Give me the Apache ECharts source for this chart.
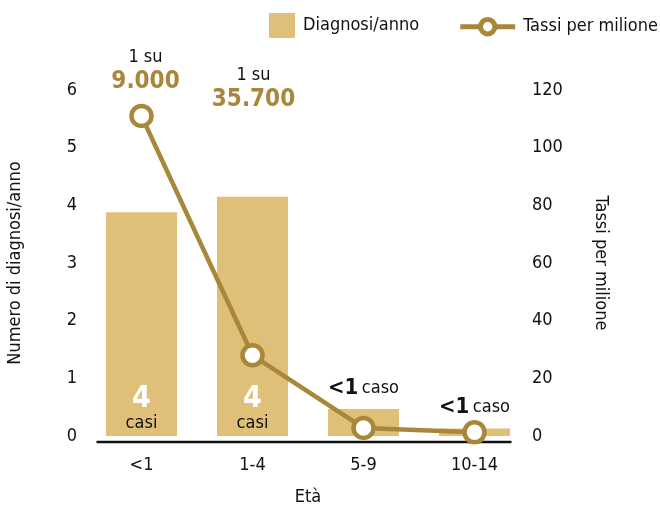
<!DOCTYPE html>
<html>
<head>
<meta charset="utf-8">
<script src="https://cdn.jsdelivr.net/npm/echarts@6/dist/echarts.min.js"></script>
<style>
  html, body { margin: 0; padding: 0; background: #fff; }
  #chart { width: 660px; height: 506px; }
</style>
</head>
<body>
<div id="chart"></div>
<script>
// Age groups and values
const categories = ['<1', '1-4', '5-9', '10-14'];
const diagnosesPerYear = [3.88, 4.15, 0.47, 0.13];
const ratePerMillion = [111, 28, 2.8, 1.3];
const barLabelMain = ['4', '4', '<1', '<1'];
const barLabelUnit = ['casi', 'casi', 'caso', 'caso'];
const leftTicks = [0, 1, 2, 3, 4, 5, 6];
const rightTicks = [0, 20, 40, 60, 80, 100, 120];
const rateNotes = [['1 su', '9.000'], ['1 su', '35.700'], null, null];

const FONT = '"Liberation Sans Narrow", "DejaVu Sans Condensed", Lato, sans-serif';
const BAR_COLOR = '#E0C078';
const LINE_COLOR = '#A8863A';
const TXT = 18;

const chart = echarts.init(document.getElementById('chart'), null, { renderer: 'canvas' });

const legendText = { fontSize: TXT, color: '#111', fontFamily: FONT, padding: [0, 0, 0, 3] };

const option = {
  animation: false,
  textStyle: { fontFamily: FONT },
  grid: { left: 86, right: 130, top: 90, bottom: 70, outerBoundsMode: 'none', containLabel: false },
  legend: [
    {
      left: 269,
      top: 13,
      padding: 0,
      itemWidth: 26,
      itemHeight: 25,
      textStyle: legendText,
      data: [{ name: 'Diagnosi/anno', icon: 'rect' }]
    },
    {
      right: 2,
      top: 17,
      padding: 0,
      itemWidth: 55,
      itemHeight: 18,
      textStyle: legendText,
      data: [{
        name: 'Tassi per milione',
        lineStyle: { color: LINE_COLOR, width: 5 },
        itemStyle: { color: '#fff', borderColor: LINE_COLOR, borderWidth: 5 }
      }]
    }
  ],
  xAxis: {
    type: 'category',
    data: categories,
    axisLine: { show: false },
    axisTick: { show: false },
    axisLabel: { fontSize: TXT, color: '#111', margin: 20, fontFamily: FONT },
    name: 'Età',
    nameLocation: 'middle',
    nameGap: 52,
    nameTextStyle: { fontSize: TXT, color: '#111', fontFamily: FONT }
  },
  yAxis: [
    {
      type: 'value',
      min: 0, max: 6, interval: 1,
      splitLine: { show: false },
      axisLine: { show: false },
      axisTick: { show: false },
      axisLabel: { fontSize: TXT, color: '#111', margin: 9, fontFamily: FONT,
        formatter: v => leftTicks.includes(v) ? String(v) : '' },
      name: 'Numero di diagnosi/anno',
      nameLocation: 'middle',
      nameGap: 62,
      nameRotate: 90,
      nameTextStyle: { fontSize: TXT, color: '#111', fontFamily: FONT }
    },
    {
      type: 'value',
      min: 0, max: 120, interval: 20,
      splitLine: { show: false },
      axisLine: { show: false },
      axisTick: { show: false },
      axisLabel: { fontSize: TXT, color: '#111', margin: 2, fontFamily: FONT,
        formatter: v => rightTicks.includes(v) ? String(v) : '' },
      name: 'Tassi per milione',
      nameLocation: 'middle',
      nameGap: 62,
      nameRotate: -90,
      nameTextStyle: { fontSize: TXT, color: '#111', fontFamily: FONT }
    }
  ],
  series: [
    {
      name: 'Diagnosi/anno',
      type: 'bar',
      yAxisIndex: 0,
      barWidth: 71,
      itemStyle: { color: BAR_COLOR },
      data: diagnosesPerYear.map((v, i) => ({
        value: v,
        label: i < 2 ? {
          show: true,
          position: 'insideBottom',
          distance: 3,
          formatter: '{big|' + barLabelMain[i] + '}\n{unit|' + barLabelUnit[i] + '}',
          rich: {
            big: { fontSize: 30, fontWeight: 'bold', color: '#fff', lineHeight: 28, fontFamily: FONT },
            unit: { fontSize: TXT, color: '#111', lineHeight: 20, fontFamily: FONT }
          }
        } : {
          show: true,
          position: 'top',
          distance: 10,
          formatter: '{big|' + barLabelMain[i] + '} {unit|' + barLabelUnit[i] + '}',
          rich: {
            big: { fontSize: 22, fontWeight: 'bold', color: '#111', fontFamily: FONT },
            unit: { fontSize: TXT, color: '#111', fontFamily: FONT }
          }
        }
      }))
    },
    {
      name: 'Tassi per milione',
      type: 'line',
      yAxisIndex: 1,
      symbol: 'circle',
      symbolSize: 20,
      lineStyle: { color: LINE_COLOR, width: 4.5 },
      itemStyle: { color: '#fff', borderColor: LINE_COLOR, borderWidth: 4.5 },
      z: 5,
      data: ratePerMillion
    }
  ]
};

chart.setOption(option);

// Baseline under the bars and the "1 su N" notes above the first two age groups
function drawExtras() {
  const y0 = chart.convertToPixel({ yAxisIndex: 0 }, 0);
  const x0 = chart.convertToPixel({ xAxisIndex: 0 }, 0);
  const x3 = chart.convertToPixel({ xAxisIndex: 0 }, 3);
  const graphics = [{
    type: 'line',
    shape: { x1: x0 - 45, y1: y0 + 6, x2: x3 + 37, y2: y0 + 6 },
    style: { stroke: '#111', lineWidth: 2.5 }
  }];
  const noteTop = [57, 75];
  const noteShift = [4, 1];
  rateNotes.forEach((note, i) => {
    if (!note) return;
    const x = chart.convertToPixel({ xAxisIndex: 0 }, i) + noteShift[i];
    graphics.push({
      type: 'text', x: x, y: noteTop[i],
      style: { text: note[0], font: TXT + 'px ' + FONT, fill: '#111', textAlign: 'center', textVerticalAlign: 'middle' }
    });
    graphics.push({
      type: 'text', x: x, y: noteTop[i] + 25,
      style: { text: note[1], font: 'bold 24px ' + FONT, fill: LINE_COLOR, textAlign: 'center', textVerticalAlign: 'middle' }
    });
  });
  chart.setOption({ graphic: graphics });
}
drawExtras();
</script>
</body>
</html>
